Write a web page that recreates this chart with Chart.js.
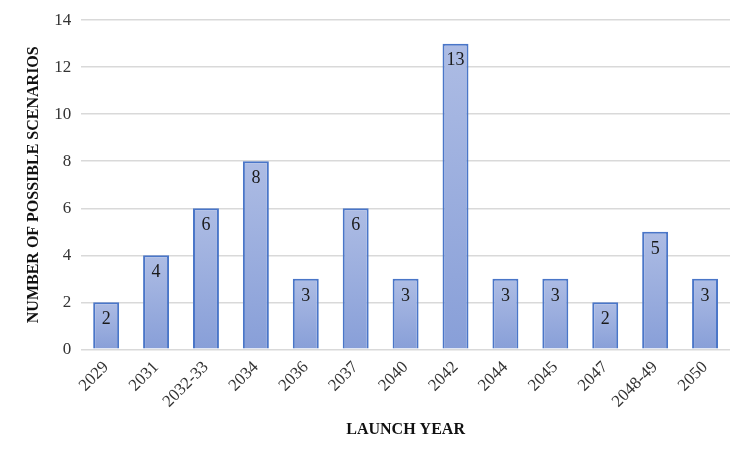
<!DOCTYPE html>
<html>
<head>
<meta charset="utf-8">
<script src="https://cdn.jsdelivr.net/npm/chart.js@4"></script>
<style>
  html, body { margin: 0; padding: 0; background: #fff; }
  #wrap { width: 750px; height: 461px; }
</style>
</head>
<body>
<div id="wrap"><canvas id="myChart" width="750" height="461"></canvas></div>
<script>
// Datos del gráfico
const years = ['2029', '2031', '2032-33', '2034', '2036', '2037', '2040', '2042', '2044', '2045', '2047', '2048-49', '2050'];
const scenarios = [2, 4, 6, 8, 3, 6, 3, 13, 3, 3, 2, 5, 3];
const yTicks = [0, 2, 4, 6, 8, 10, 12, 14];

const serif = "'Liberation Serif', 'Times New Roman', serif";

// Relleno degradado por barra (más claro arriba)
function barFill(context) {
  const chart = context.chart;
  const { ctx, chartArea } = chart;
  if (!chartArea) return '#97abdc';
  const y = chart.scales.y;
  const top = y.getPixelForValue(context.raw);
  const bottom = y.getPixelForValue(0);
  const g = ctx.createLinearGradient(0, top, 0, bottom);
  g.addColorStop(0, '#adbce4');
  g.addColorStop(1, '#889fd8');
  return g;
}

// Etiquetas de valor dentro de la barra
const valueLabels = {
  id: 'valueLabels',
  afterDatasetsDraw(chart) {
    const ctx = chart.ctx;
    const meta = chart.getDatasetMeta(0);
    ctx.save();
    ctx.font = '18px ' + serif;
    ctx.fillStyle = '#1a1a1a';
    ctx.textAlign = 'center';
    ctx.textBaseline = 'middle';
    meta.data.forEach((bar, i) => {
      ctx.fillText(String(scenarios[i]), bar.x, bar.y + 17);
    });
    ctx.restore();
  }
};

const ctx = document.getElementById('myChart').getContext('2d');
const myChart = new Chart(ctx, {
  type: 'bar',
  data: {
    labels: years,
    datasets: [{
      data: scenarios,
      backgroundColor: barFill,
      borderColor: '#4a76c8',
      borderWidth: 2,
      categoryPercentage: 1,
      barPercentage: 0.52
    }]
  },
  options: {
    responsive: false,
    animation: false,
    layout: { padding: { left: 20, right: 20, top: 14, bottom: 18 } },
    plugins: {
      legend: { display: false },
      tooltip: { enabled: false }
    },
    scales: {
      x: {
        grid: { display: false, drawTicks: false },
        border: { display: false },
        ticks: {
          color: '#333',
          font: { family: serif, size: 17 },
          maxRotation: 45,
          minRotation: 45,
          padding: 8
        },
        title: {
          display: true,
          text: 'LAUNCH YEAR',
          color: '#111',
          font: { family: serif, size: 16, weight: 'bold' },
          padding: { top: 0 }
        }
      },
      y: {
        min: 0,
        max: 14,
        afterBuildTicks(axis) {
          axis.ticks = yTicks.map(v => ({ value: v }));
        },
        grid: { color: '#d9d9d9', lineWidth: 1.5, drawTicks: false },
        border: { display: false },
        ticks: {
          color: '#333',
          font: { family: serif, size: 17 },
          padding: 10
        },
        title: {
          display: true,
          text: 'NUMBER OF POSSIBLE SCENARIOS',
          color: '#111',
          font: { family: serif, size: 16, weight: 'bold' },
          padding: { bottom: 1 }
        }
      }
    }
  },
  plugins: [valueLabels]
});
</script>
</body>
</html>
